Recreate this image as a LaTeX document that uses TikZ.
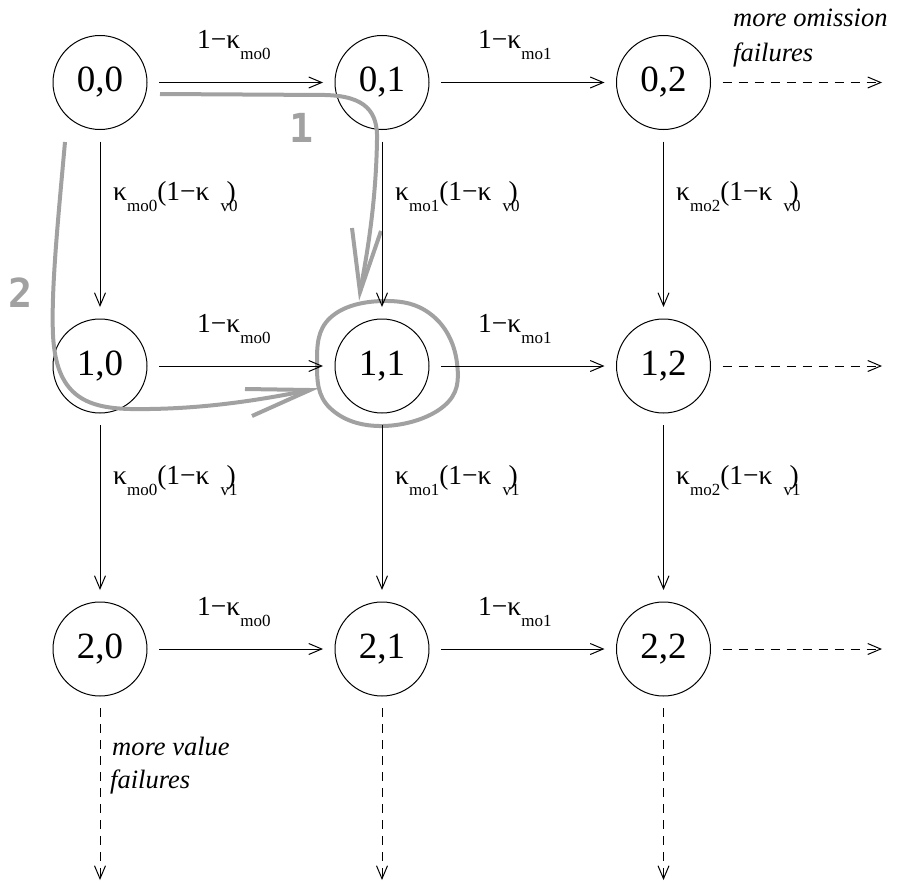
\documentclass[tikz,border=0pt]{standalone}
\usepackage{fontspec}
\setmainfont{LiberationSerif}[Extension=.ttf, UprightFont=*-Regular,
  ItalicFont=*-Italic, BoldFont=*-Bold, BoldItalicFont=*-BoldItalic]
\newfontfamily\hintfont{DejaVu Sans Mono Bold}
\usetikzlibrary{arrows.meta}
\definecolor{hintgray}{gray}{0.63}

% transition probability labels
\newcommand\subsz{\fontsize{17}{17}\selectfont}
\newcommand\hlab[1]{1−κ\raisebox{-11pt}{\subsz #1}}
\newcommand\vlab[2]{κ\raisebox{-11pt}{\subsz #1}(1−κ\hspace{11pt}\raisebox{-11pt}{\subsz #2}\kern-11pt)}

\begin{document}
\begin{tikzpicture}[x=1pt,y=-1pt,
  state/.style={circle, draw, line width=1pt, minimum size=94pt, inner sep=0pt,
    outer sep=12pt, font=\fontsize{37}{37}\selectfont},
  trans/.style={line width=1pt, -{Straight Barb[length=13pt,width=11pt]}},
  more/.style={trans, dash pattern=on 9pt off 7pt},
  lab/.style={anchor=base west, inner sep=0pt, font=\fontsize{27.5}{30}\selectfont},
  note/.style={anchor=base west, inner sep=0pt, font=\fontsize{26.5}{30}\selectfont\itshape},
  hint/.style={draw=hintgray, line width=4pt, line join=round},
  hintnum/.style={text=hintgray, inner sep=0pt, font=\hintfont\fontsize{40}{40}\selectfont}]
\useasboundingbox (0,0) rectangle (902,886);

% states (value failures, omission failures)
\foreach \r/\y in {0/82.5,1/366,2/649}
  \foreach \c/\x in {0/100,1/382,2/663.5}
    \node[state] (n\r\c) at (\x,\y) {\r,\c};

% open ends of the lattice
\coordinate (e0) at (882,82.5);
\coordinate (e1) at (882,366);
\coordinate (e2) at (882,649);
\coordinate (d0) at (100,880);
\coordinate (d1) at (382,880);
\coordinate (d2) at (663.5,880);

% highlighted paths into state 1,1
\draw[hint] (160,94) -- (325,95) .. controls (366,96) and (378,112) .. (377,140)
  .. controls (376,200) and (368,250) .. (360,292);
\draw[hint, line join=miter] (352,228) -- (360,292) -- (381,231);
\draw[hint] (65,142) .. controls (58,220) and (51,290) .. (53,335)
  .. controls (56,395) and (85,408) .. (130,409)
  .. controls (200,410) and (260,400) .. (310,390);
\draw[hint, line join=miter] (245,389) -- (310,390) -- (252,416);
\draw[hint] plot[smooth cycle, tension=0.7] coordinates
  {(383,301) (433,316) (457,363) (444,406) (383,426) (330,408) (317,363) (330,318)};
\node[hintnum] (h1) at (302,128) {1};
\node[hintnum] (h2) at (21,293) {2};

% transitions
\foreach \r in {0,1,2}{
  \draw[trans] (n\r0) -- (n\r1);
  \draw[trans] (n\r1) -- (n\r2);
  \draw[more] (n\r2) -- (e\r);
}
\foreach \c in {0,1,2}{
  \draw[trans] (n0\c) -- (n1\c);
  \draw[trans] (n1\c) -- (n2\c);
  \draw[more] (n2\c) -- (d\c);
}

% labels of omission transitions
\foreach \r/\y in {0/48,1/332,2/615}{
  \node[lab] (ha\r) at (197,\y) {\hlab{mo0}};
  \node[lab] (hb\r) at (478,\y) {\hlab{mo1}};
}
% labels of value transitions
\foreach \r/\y in {0/200,1/484}{
  \node[lab] (va\r) at (113,\y) {\vlab{mo0}{v\r}};
  \node[lab] (vb\r) at (395,\y) {\vlab{mo1}{v\r}};
  \node[lab] (vc\r) at (676,\y) {\vlab{mo2}{v\r}};
}

% notes on the open ends
\node[note] (om1) at (733,26) {more omission};
\node[note] (om2) at (733,61) {failures};
\node[note] (va1) at (112,755) {more value};
\node[note] (va2) at (110,788) {failures};
\end{tikzpicture}
\end{document}
